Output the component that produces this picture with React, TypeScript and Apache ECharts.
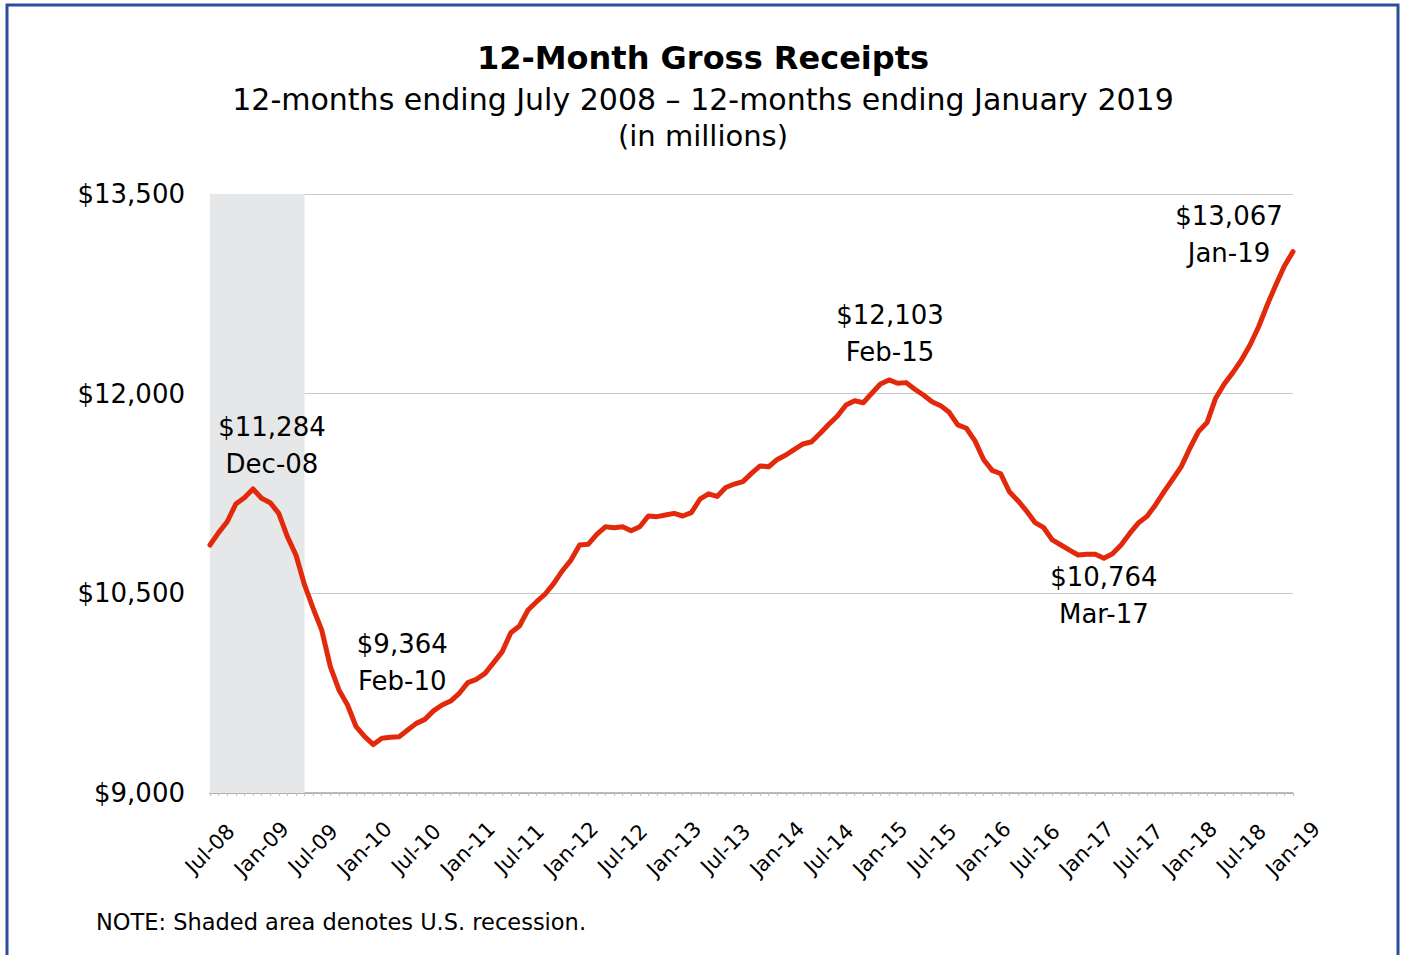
import React, { useEffect, useRef } from "react";
import * as echarts from "echarts";

const FONT = "'DejaVu Sans', sans-serif";

const MONTH_NAMES = ["Jan", "Feb", "Mar", "Apr", "May", "Jun", "Jul", "Aug", "Sep", "Oct", "Nov", "Dec"];
const START_YEAR = 2008;
const START_MONTH = 6; // July
const N_MONTHS = 127;
const months: string[] = [];
for (let k = 0; k < N_MONTHS; k++) {
  const m = (START_MONTH + k) % 12;
  const y = START_YEAR + Math.floor((START_MONTH + k) / 12);
  months.push(MONTH_NAMES[m] + "-" + String(y % 100).padStart(2, "0"));
}

const receipts: number[] = [
  10863, 10956, 11038, 11171, 11218, 11284, 11214, 11181, 11101, 10926,
  10788, 10563, 10387, 10224, 9949, 9774, 9661, 9498, 9423, 9364,
  9411, 9418, 9423, 9473, 9523, 9553, 9617, 9661, 9691, 9749,
  9829, 9854, 9899, 9979, 10062, 10204, 10255, 10375, 10437, 10495,
  10575, 10670, 10750, 10863, 10868, 10943, 11000, 10993, 11000, 10970,
  11000, 11081, 11076, 11088, 11101, 11081, 11106, 11207, 11248, 11228,
  11295, 11321, 11339, 11401, 11457, 11451, 11506, 11539, 11582, 11622,
  11639, 11702, 11770, 11832, 11915, 11947, 11932, 12003, 12073, 12103,
  12078, 12083, 12033, 11990, 11940, 11910, 11860, 11765, 11740, 11645,
  11505, 11424, 11398, 11263, 11196, 11118, 11031, 10993, 10901, 10863,
  10825, 10788, 10793, 10793, 10764, 10798, 10863, 10950, 11028, 11078,
  11164, 11264, 11357, 11452, 11590, 11715, 11783, 11966, 12073, 12158,
  12253, 12366, 12503, 12666, 12816, 12959, 13067,
];

const yTicks = { min: 9000, max: 13500, interval: 1500 };

// Recession shading (start / end month)
const recession: [string, string] = ["Jul-08", "Jun-09"];

// Annotated months
const annotMonths = ["Dec-08", "Feb-10", "Feb-15", "Mar-17", "Jan-19"];
const annotOffsets: [number, number][] = [
  [19, -43],
  [29, -82],
  [1, -46],
  [0, 37],
  [-64, -17],
];

const fmtMoney = (v: number) => "$" + v.toLocaleString("en-US");

export default function App() {
  const ref = useRef<HTMLDivElement>(null);

  useEffect(() => {
    if (!ref.current) return;
    const chart = echarts.init(ref.current, undefined, { renderer: "svg" });

    const markData = annotMonths.map((m, k) => {
      const i = months.indexOf(m);
      const v = receipts[i];
      return {
        coord: [m, v],
        value: v,
        label: {
          formatter: fmtMoney(v) + "\n" + m,
          offset: annotOffsets[k],
        },
      };
    });

    chart.setOption({
      animation: false,
      backgroundColor: "#ffffff",
      grid: { left: 210, right: 109, top: 194, bottom: 162, containLabel: false },
      xAxis: {
        type: "category",
        data: months,
        boundaryGap: false,
        axisLine: { show: true, lineStyle: { color: "#A6A6A6", width: 1.5 } },
        axisTick: { show: true, interval: 0, length: 3, lineStyle: { color: "#BFBFBF" } },
        axisLabel: {
          interval: 5,
          rotate: 45,
          fontSize: 21,
          fontFamily: FONT,
          color: "#000",
          margin: 56,
          align: "center",
          verticalAlign: "middle",
          showMinLabel: true,
          showMaxLabel: true,
        },
        splitLine: { show: false },
      },
      yAxis: {
        type: "value",
        min: yTicks.min,
        max: yTicks.max,
        interval: yTicks.interval,
        axisLine: { show: true, lineStyle: { color: "#BFBFBF", width: 1 } },
        axisTick: { show: false },
        axisLabel: {
          formatter: (v: number) => fmtMoney(v),
          fontSize: 26,
          fontFamily: FONT,
          color: "#000",
          margin: 25,
        },
        splitLine: { show: true, lineStyle: { color: "#C9C9C9", width: 1 } },
      },
      series: [
        {
          type: "line",
          data: receipts,
          symbol: "none",
          smooth: false,
          lineStyle: { color: "#E2290C", width: 5, join: "round", cap: "round" },
          itemStyle: { color: "#E2290C" },
          markArea: {
            silent: true,
            itemStyle: { color: "#E6E7E9" },
            data: [[{ xAxis: recession[0] }, { xAxis: recession[1] }]],
          },
          markPoint: {
            silent: true,
            symbol: "circle",
            symbolSize: 1,
            itemStyle: { color: "rgba(0,0,0,0)" },
            label: {
              show: true,
              position: "inside",
              color: "#000",
              fontSize: 26,
              lineHeight: 37,
              fontFamily: FONT,
              align: "center",
              verticalAlign: "middle",
            },
            data: markData,
          },
          z: 3,
        },
      ],
      graphic: [
        {
          type: "rect",
          shape: { x: 7, y: 5, width: 1391, height: 1000 },
          style: { fill: "none", stroke: "#2E4C9E", lineWidth: 3 },
          silent: true,
        },
        {
          type: "text",
          x: 703,
          y: 58,
          style: {
            text: "12-Month Gross Receipts",
            font: `bold 32px ${FONT}`,
            fill: "#000",
            textAlign: "center",
            textVerticalAlign: "middle",
          },
        },
        {
          type: "text",
          x: 703,
          y: 99,
          style: {
            text: "12-months ending July 2008 \u2013 12-months ending January 2019",
            font: `30px ${FONT}`,
            fill: "#000",
            textAlign: "center",
            textVerticalAlign: "middle",
          },
        },
        {
          type: "text",
          x: 703,
          y: 136,
          style: {
            text: "(in millions)",
            font: `29px ${FONT}`,
            fill: "#000",
            textAlign: "center",
            textVerticalAlign: "middle",
          },
        },
        {
          type: "text",
          x: 96,
          y: 922,
          style: {
            text: "NOTE: Shaded area denotes U.S. recession.",
            font: `22.5px ${FONT}`,
            fill: "#000",
            textAlign: "left",
            textVerticalAlign: "middle",
          },
        },
      ],
    });

    return () => chart.dispose();
  }, []);

  return (
    <div
      style={{
        position: "fixed",
        left: 0,
        top: 0,
        width: 1402,
        height: 955,
        overflow: "hidden",
        background: "#fff",
      }}
    >
      <div ref={ref} style={{ width: 1402, height: 955 }} />
    </div>
  );
}
